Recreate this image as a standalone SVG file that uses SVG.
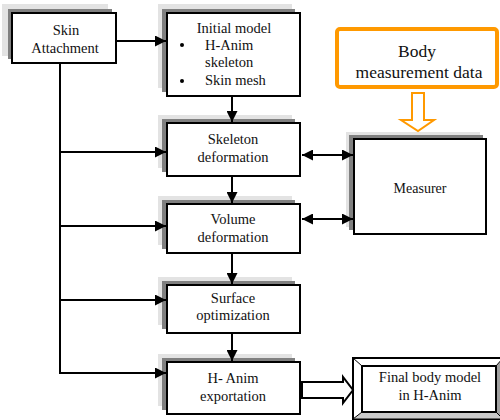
<svg xmlns="http://www.w3.org/2000/svg" width="500" height="420" viewBox="0 0 500 420">
<style>
.sh1{fill:#e3e3e3}
.sh2{fill:#808080}
.box{fill:#fff;stroke:#000;stroke-width:2}
text{font-family:'Liberation Serif','DejaVu Serif','Times New Roman',serif;font-size:14.5px;fill:#111}
.c{text-anchor:middle}
.ln{fill:none;stroke:#000;stroke-width:2}
</style>
<defs>
<marker id="ah" markerUnits="userSpaceOnUse" markerWidth="11" markerHeight="11" refX="10" refY="5" orient="auto-start-reverse" viewBox="0 0 10 10">
<path d="M0,0 L10,5 L0,10 z" fill="#000"/>
</marker>
</defs>
<rect width="500" height="420" fill="#fff"/>

<g id="skin">
<rect class="sh1" x="2" y="4" width="106" height="52"/>
<rect class="sh2" x="8" y="9" width="104" height="50"/>
<rect class="box" x="12" y="13" width="104" height="50"/>
<text class="c" x="66" y="35">Skin</text>
<text class="c" x="65" y="53">Attachment</text>
</g>

<g id="initial">
<rect class="sh1" x="158" y="4" width="134" height="84"/>
<rect class="sh2" x="162" y="9" width="133" height="83"/>
<rect class="box" x="167" y="13" width="133" height="83"/>
<text class="c" x="234" y="33">Initial model</text>
<circle cx="182" cy="45" r="2"/>
<text x="205" y="50">H-Anim</text>
<text x="205" y="67">skeleton</text>
<circle cx="182" cy="81" r="2"/>
<text x="205" y="85">Skin mesh</text>
</g>

<g id="skeleton">
<rect class="sh1" x="158" y="115" width="134" height="53"/>
<rect class="sh2" x="162" y="119" width="133" height="53"/>
<rect class="box" x="167" y="123" width="133" height="53"/>
<text class="c" x="233" y="144">Skeleton</text>
<text class="c" x="233" y="162">deformation</text>
</g>

<g id="volume">
<rect class="sh1" x="158" y="196" width="134" height="49"/>
<rect class="sh2" x="162" y="200" width="133" height="49"/>
<rect class="box" x="167" y="204" width="133" height="49"/>
<text class="c" x="233" y="224">Volume</text>
<text class="c" x="233" y="242">deformation</text>
</g>

<g id="surface">
<rect class="sh1" x="158" y="277" width="134" height="48"/>
<rect class="sh2" x="162" y="281" width="133" height="48"/>
<rect class="box" x="167" y="285" width="133" height="48"/>
<text class="c" x="233" y="303">Surface</text>
<text class="c" x="233" y="320">optimization</text>
</g>

<g id="export">
<rect class="sh1" x="158" y="354" width="134" height="52"/>
<rect class="sh2" x="162" y="358" width="133" height="52"/>
<rect class="box" x="167" y="362" width="133" height="52"/>
<text class="c" x="233" y="383">H- Anim</text>
<text class="c" x="233" y="401">exportation</text>
</g>

<g id="measurer">
<rect class="sh1" x="346" y="132" width="134" height="95"/>
<rect class="sh2" x="349" y="135" width="134" height="95"/>
<rect class="box" x="354" y="139" width="132" height="95"/>
<text class="c" x="420" y="193" style="font-size:14px">Measurer</text>
</g>

<g id="body">
<rect x="337" y="29" width="160" height="58" rx="3" fill="#fff" stroke="#FF9900" stroke-width="4"/>
<text class="c" x="417" y="57" style="font-size:17.5px">Body</text>
<text class="c" x="419" y="78" style="font-size:17.5px">measurement data</text>
</g>

<g id="final">
<rect x="353" y="358" width="150" height="61" fill="#fff" stroke="#000" stroke-width="2"/>
<polygon points="353,419 362,412 496,412 503,419" fill="#c8c8c8" stroke="#000" stroke-width="1"/>
<polygon points="503,358 496,366 496,412 503,419" fill="#a0a0a0" stroke="#000" stroke-width="1"/>
<line x1="353" y1="358" x2="362" y2="366" stroke="#000" stroke-width="1"/>
<rect x="362" y="366" width="134" height="46" fill="#fff" stroke="#000" stroke-width="2"/>
<text class="c" x="430" y="382">Final body model</text>
<text class="c" x="430" y="400">in H-Anim</text>
</g>

<g id="connectors">
<line class="ln" x1="116" y1="41" x2="166" y2="41" marker-end="url(#ah)"/>
<polyline class="ln" points="60,63 60,373"/>
<line class="ln" x1="60" y1="152" x2="166" y2="152" marker-end="url(#ah)"/>
<line class="ln" x1="60" y1="226" x2="166" y2="226" marker-end="url(#ah)"/>
<line class="ln" x1="60" y1="300" x2="166" y2="300" marker-end="url(#ah)"/>
<line class="ln" x1="59" y1="373" x2="166" y2="373" marker-end="url(#ah)"/>
<line class="ln" x1="232" y1="96" x2="232" y2="122" marker-end="url(#ah)"/>
<line class="ln" x1="232" y1="176" x2="232" y2="203" marker-end="url(#ah)"/>
<line class="ln" x1="232" y1="253" x2="232" y2="284" marker-end="url(#ah)"/>
<line class="ln" x1="232" y1="333" x2="232" y2="361" marker-end="url(#ah)"/>
<line class="ln" x1="302" y1="155" x2="353" y2="155" marker-start="url(#ah)" marker-end="url(#ah)"/>
<line class="ln" x1="302" y1="219" x2="353" y2="219" marker-start="url(#ah)" marker-end="url(#ah)"/>
<polygon points="412,93 424,93 424,120 434,120 418,131 401,120 412,120" fill="#fff" stroke="#FF9900" stroke-width="2"/>
<polygon points="302,382 343,382 343,377 353,390 343,403 343,398 302,398" fill="#fff" stroke="#000" stroke-width="2"/>
</g>
</svg>
